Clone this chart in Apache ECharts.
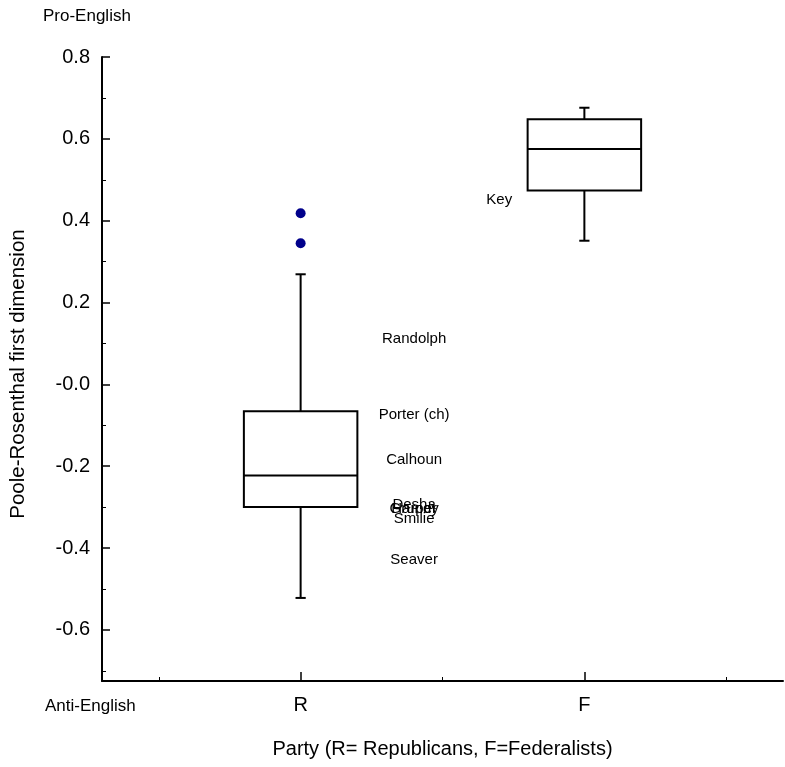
<!DOCTYPE html>
<html>
<head>
<meta charset="utf-8">
<script src="https://cdn.jsdelivr.net/npm/echarts@6/dist/echarts.min.js"></script>
<style>
html,body{margin:0;padding:0;background:#fff;}
#chart{width:785px;height:767px;}
</style>
</head>
<body>
<div id="chart"></div>
<script>
// ---- data ----
const parties = ['R', 'F'];
const partyX = [1, 2];
// [min, Q1, median, Q3, max]
const boxR = [-0.522, -0.300, -0.223, -0.066, 0.269];
const boxF = [0.351, 0.474, 0.575, 0.648, 0.676];
const outliersR = [0.418, 0.345];
const labelNames = ['Randolph', 'Porter (ch)', 'Calhoun', 'Desha', 'Harper', 'Grundy', 'Smilie', 'Seaver', 'Key'];
const labelX = [1.4, 1.4, 1.4, 1.4, 1.4, 1.4, 1.4, 1.4, 1.7];
const labelY = [0.111, -0.075, -0.185, -0.294, -0.304, -0.305, -0.329, -0.429, 0.451];
const yMajorTicks = [-0.6, -0.4, -0.2, 0, 0.2, 0.4, 0.6, 0.8];
const yMinorTicks = [-0.7, -0.5, -0.3, -0.1, 0.1, 0.3, 0.5, 0.7];
const xMinorTicks = [0.5, 1.5, 2.5];

const FONT = 'Liberation Sans, Arial, Helvetica, sans-serif';
const boxData = [[partyX[0]].concat(boxR), [partyX[1]].concat(boxF)];
const outlierData = outliersR.map(v => [partyX[0], v]);
const labelData = labelNames.map((n, i) => [labelX[i], labelY[i], n]);

function renderBox(params, api) {
  const x = api.value(0);
  const lo = api.coord([x, api.value(1)]);
  const q1 = api.coord([x, api.value(2)]);
  const md = api.coord([x, api.value(3)]);
  const q3 = api.coord([x, api.value(4)]);
  const hi = api.coord([x, api.value(5)]);
  const halfW = api.size([0.2, 0])[0];
  const cap = api.size([0.018, 0])[0];
  const ls = {stroke: '#000', lineWidth: 2, fill: null};
  const cx = md[0];
  return {
    type: 'group',
    children: [
      {type: 'line', shape: {x1: cx, y1: q3[1], x2: cx, y2: hi[1]}, style: ls},
      {type: 'line', shape: {x1: cx, y1: q1[1], x2: cx, y2: lo[1]}, style: ls},
      {type: 'line', shape: {x1: cx - cap, y1: hi[1], x2: cx + cap, y2: hi[1]}, style: ls},
      {type: 'line', shape: {x1: cx - cap, y1: lo[1], x2: cx + cap, y2: lo[1]}, style: ls},
      {type: 'rect', shape: {x: cx - halfW, y: q3[1], width: 2 * halfW, height: q1[1] - q3[1]},
        style: {fill: '#fff', stroke: '#000', lineWidth: 2}},
      {type: 'line', shape: {x1: cx - halfW, y1: md[1], x2: cx + halfW, y2: md[1]}, style: ls}
    ]
  };
}

const chart = echarts.init(document.getElementById('chart'));
const axisLineStyle = {color: '#000', width: 2};
chart.setOption({
  backgroundColor: '#fff',
  animation: false,
  grid: {left: 102, top: 57, width: 681, height: 624, containLabel: false},
  xAxis: [
    {
      type: 'value', min: 0.3, max: 2.7, position: 'bottom',
      axisLine: {show: true, onZero: false, lineStyle: axisLineStyle},
      axisTick: {show: true, inside: true, length: 9, customValues: partyX, lineStyle: {color: '#000', width: 1.5}},
      axisLabel: {show: true, customValues: partyX, margin: 14, color: '#000', fontSize: 20, fontFamily: FONT,
        formatter: v => parties[partyX.indexOf(v)] || ''},
      splitLine: {show: false},
      name: 'Party (R= Republicans, F=Federalists)', nameLocation: 'middle', nameGap: 58,
      nameTextStyle: {color: '#000', fontSize: 20, fontFamily: FONT}
    },
    {
      type: 'value', min: 0.3, max: 2.7, position: 'bottom',
      axisLine: {show: false, onZero: false},
      axisTick: {show: true, inside: true, length: 4, customValues: xMinorTicks, lineStyle: {color: '#000', width: 1}},
      axisLabel: {show: false},
      splitLine: {show: false}
    }
  ],
  yAxis: [
    {
      type: 'value', min: -0.725, max: 0.8, position: 'left',
      axisLine: {show: true, onZero: false, lineStyle: axisLineStyle},
      axisTick: {show: true, inside: true, length: 8, customValues: yMajorTicks, lineStyle: {color: '#000', width: 1.5}},
      axisLabel: {show: true, customValues: yMajorTicks, margin: 12, color: '#000', fontSize: 20, fontFamily: FONT,
        formatter: v => Math.abs(v) < 1e-9 ? '-0.0' : v.toFixed(1)},
      splitLine: {show: false},
      name: 'Poole-Rosenthal first dimension', nameLocation: 'middle', nameGap: 73,
      nameTextStyle: {color: '#000', fontSize: 20.5, fontFamily: FONT, padding: [0, 10, 0, 0]}
    },
    {
      type: 'value', min: -0.725, max: 0.8, position: 'left',
      axisLine: {show: false, onZero: false},
      axisTick: {show: true, inside: true, length: 4, customValues: yMinorTicks, lineStyle: {color: '#000', width: 1}},
      axisLabel: {show: false},
      splitLine: {show: false}
    }
  ],
  graphic: [
    {type: 'text', left: 43, top: 8, style: {text: 'Pro-English', fill: '#000', font: '17px ' + FONT}},
    {type: 'text', left: 45, top: 698, style: {text: 'Anti-English', fill: '#000', font: '17px ' + FONT}}
  ],
  series: [
    {
      type: 'custom', xAxisIndex: 0, yAxisIndex: 0,
      renderItem: renderBox, data: boxData, encode: {x: 0, y: [1, 2, 3, 4, 5]}, z: 2
    },
    {
      type: 'scatter', xAxisIndex: 0, yAxisIndex: 0, data: outlierData,
      symbol: 'circle', symbolSize: 10, itemStyle: {color: '#00008B', opacity: 1}, z: 3
    },
    {
      type: 'scatter', xAxisIndex: 0, yAxisIndex: 0, data: labelData,
      symbol: 'circle', symbolSize: 1, itemStyle: {color: 'rgba(0,0,0,0)', opacity: 1},
      encode: {x: 0, y: 1},
      label: {show: true, position: 'inside', formatter: p => p.value[2], color: '#000', fontSize: 15, fontFamily: FONT},
      z: 4
    }
  ]
});
</script>
</body>
</html>
